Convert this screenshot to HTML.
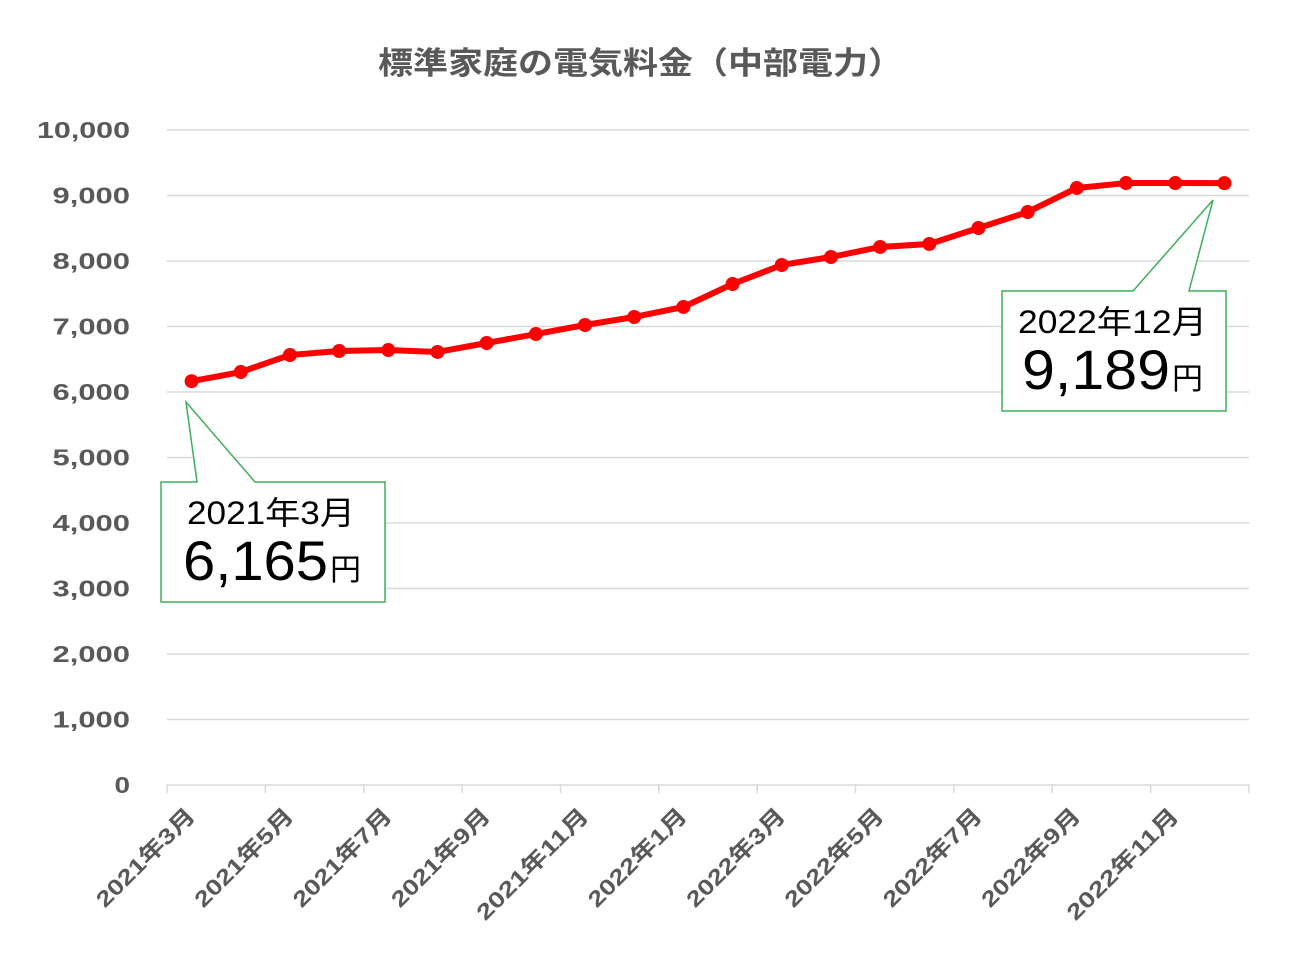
<!DOCTYPE html>
<html><head><meta charset="utf-8"><style>
body{margin:0;background:#fff;}
svg{display:block;font-family:"Liberation Sans","Noto Sans CJK JP",sans-serif;}
</style></head><body>
<svg id="chart" width="1299" height="966" viewBox="0 0 1299 966">
<text x="378" y="74" textLength="525" lengthAdjust="spacingAndGlyphs" font-size="31" font-weight="bold" fill="#595959">標準家庭の電気料金（中部電力）</text>
<g id="grid"></g><g id="axes"></g><g id="series"></g>
<g>
<polygon points="161,482 197,482 186,402 255,482 385,482 385,602 161,602" fill="#fff" stroke="#3cb05a" stroke-width="1.5"/>
<text x="187" y="524" textLength="168" lengthAdjust="spacingAndGlyphs" font-size="32" fill="#000">2021年3月</text>
<text x="183" y="580" textLength="145" lengthAdjust="spacingAndGlyphs" font-size="56" fill="#000">6,165</text>
<text x="330" y="580" textLength="31" lengthAdjust="spacingAndGlyphs" font-size="30" fill="#000">円</text>
</g>
<g>
<polygon points="1002,291 1133,291 1213,200 1189,291 1226,291 1226,411 1002,411" fill="#fff" stroke="#3cb05a" stroke-width="1.5"/>
<text x="1018" y="333" textLength="189" lengthAdjust="spacingAndGlyphs" font-size="32" fill="#000">2022年12月</text>
<text x="1022" y="389" textLength="148" lengthAdjust="spacingAndGlyphs" font-size="56" fill="#000">9,189</text>
<text x="1172" y="389" textLength="31" lengthAdjust="spacingAndGlyphs" font-size="30" fill="#000">円</text>
</g>
</svg>
<script>
const months=["2021年3月","2021年4月","2021年5月","2021年6月","2021年7月","2021年8月","2021年9月","2021年10月","2021年11月","2021年12月","2022年1月","2022年2月","2022年3月","2022年4月","2022年5月","2022年6月","2022年7月","2022年8月","2022年9月","2022年10月","2022年11月","2022年12月"];
const prices=[6165,6305,6565,6626,6641,6611,6748,6885,7023,7145,7298,7649,7939,8061,8214,8260,8504,8748,9115,9190,9190,9189];
const yTicks=[0,1000,2000,3000,4000,5000,6000,7000,8000,9000,10000];
const yTickLabels=["0","1,000","2,000","3,000","4,000","5,000","6,000","7,000","8,000","9,000","10,000"];
const NS="http://www.w3.org/2000/svg";
const x0=167,x1=1249,yTop=130,yBot=785,yMax=10000;
const step=(x1-x0)/months.length;
const xc=i=>x0+step*(i+0.5);
const ys=v=>yBot-(v/yMax)*(yBot-yTop);
function mk(t,a,p){const e=document.createElementNS(NS,t);for(const k in a)e.setAttribute(k,a[k]);p.appendChild(e);return e;}
const grid=document.getElementById('grid'),axes=document.getElementById('axes'),ser=document.getElementById('series');
yTicks.forEach((v,i)=>{
 if(v>0){const l=mk('line',{x1:x0,x2:x1,y1:ys(v),y2:ys(v),stroke:'#d9d9d9','stroke-width':1.5},grid);
 
 }
 const lbl=yTickLabels[i];
 const t=mk('text',{x:130,y:ys(v)+8,'text-anchor':'end','font-size':23,'font-weight':'bold',fill:'#595959',textLength:lbl.length*15.5,lengthAdjust:'spacingAndGlyphs'},axes);
 t.textContent=lbl;
 
 
});
const ax=mk('line',{x1:x0,x2:x1,y1:yBot,y2:yBot,stroke:'#d9d9d9','stroke-width':1.5},axes);


for(let i=0;i<=months.length;i+=2){
 const tk=mk('line',{x1:x0+step*i,x2:x0+step*i,y1:yBot,y2:yBot+8,stroke:'#d9d9d9','stroke-width':1.5},axes);
 
 
}
months.forEach((m,i)=>{
 if(i%2)return;
 const x=xc(i)+5,y=817;
 const t=mk('text',{x:x,y:y,'text-anchor':'end','font-size':22,'font-weight':'bold',fill:'#595959',textLength:m.length*18.5,lengthAdjust:'spacingAndGlyphs',transform:`rotate(-45 ${x} ${y})`},axes);
 t.textContent=m;
 
 
});
const line=mk('polyline',{points:prices.map((v,i)=>xc(i)+','+ys(v)).join(' '),fill:'none',stroke:'#ff0000','stroke-width':6,'stroke-linejoin':'round'},ser);


prices.forEach((v,i)=>{
 const c=mk('circle',{cx:xc(i),cy:ys(v),r:7,fill:'#ff0000'},ser);
 
 
});
</script>
</body></html>
